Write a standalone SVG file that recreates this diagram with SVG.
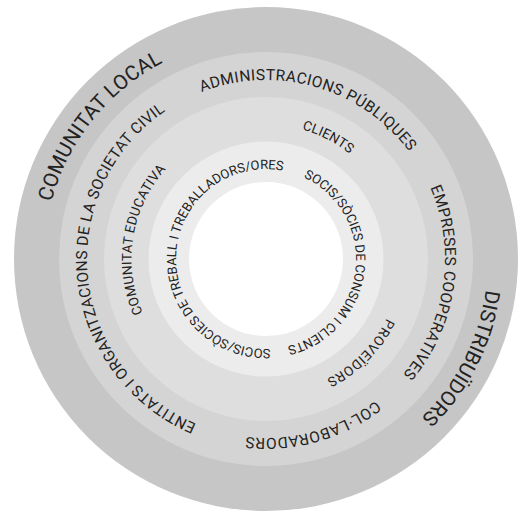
<svg xmlns="http://www.w3.org/2000/svg" xmlns:xlink="http://www.w3.org/1999/xlink" width="524" height="512" viewBox="0 0 524 512">
<style>
.lbl{font-family:Roboto,"Liberation Sans",sans-serif;fill:#222;text-anchor:middle}
.f1{font-size:20.5px}
.f2{font-size:15.5px}
.f3{font-size:13.5px}
.f4{font-size:13px}
</style>
<defs>
<path id="p1" d="M266,481 A222,222 0 1 1 266,37 A222,222 0 1 1 266,481"/>
<path id="p2" d="M266,438 A179,179 0 1 1 266,80 A179,179 0 1 1 266,438"/>
<path id="p3" d="M266,393.5 A134.5,134.5 0 1 1 266,124.5 A134.5,134.5 0 1 1 266,393.5"/>
<path id="p4" d="M266,349 A90,90 0 1 1 266,169 A90,90 0 1 1 266,349"/>
</defs>
<g id="rings">
<circle cx="266" cy="259" r="252" fill="#c6c6c6"/>
<circle cx="266" cy="259" r="207" fill="#d4d4d4"/>
<circle cx="266" cy="259" r="162" fill="#dedede"/>
<circle cx="266" cy="259" r="117.5" fill="#ececec"/>
<circle cx="266" cy="259" r="77" fill="#ffffff"/>
</g>
<g id="comunitat-local"><text class="lbl f1" transform="rotate(308.6 266 259)"><textPath xlink:href="#p1" href="#p1" startOffset="50%" textLength="184">COMUNITAT LOCAL</textPath></text></g>
<g id="distribuidors"><text class="lbl f1" transform="rotate(116.8 266 259)"><textPath xlink:href="#p1" href="#p1" startOffset="50%" textLength="146">DISTRIBUÏDORS</textPath></text></g>
<g id="administracions"><text class="lbl f2" transform="rotate(16 266 259)"><textPath xlink:href="#p2" href="#p2" startOffset="50%" textLength="232">ADMINISTRACIONS PÚBLIQUES</textPath></text></g>
<g id="empreses"><text class="lbl f2" transform="rotate(98.3 266 259)"><textPath xlink:href="#p2" href="#p2" startOffset="50%" textLength="199">EMPRESES COOPERATIVES</textPath></text></g>
<g id="col-laboradors"><text class="lbl f2" transform="rotate(164.3 266 259)"><textPath xlink:href="#p2" href="#p2" startOffset="50%" textLength="138">COL·LABORADORS</textPath></text></g>
<g id="entitats"><text class="lbl f2" transform="rotate(264.35 266 259)"><textPath xlink:href="#p2" href="#p2" startOffset="50%" textLength="384">ENTITATS I ORGANITZACIONS DE LA SOCIETAT CIVIL</textPath></text></g>
<g id="clients"><text class="lbl f3" transform="rotate(27 266 259)"><textPath xlink:href="#p3" href="#p3" startOffset="50%" textLength="54">CLIENTS</textPath></text></g>
<g id="proveidors"><text class="lbl f3" transform="rotate(134.65 266 259)"><textPath xlink:href="#p3" href="#p3" startOffset="50%" textLength="87">PROVEÏDORS</textPath></text></g>
<g id="comunitat-educativa"><text class="lbl f3" transform="rotate(279.1 266 259)"><textPath xlink:href="#p3" href="#p3" startOffset="50%" textLength="154">COMUNITAT EDUCATIVA</textPath></text></g>
<g id="socis-treball"><text class="lbl f4" transform="rotate(274 266 259)"><textPath xlink:href="#p4" href="#p4" startOffset="50%" textLength="304">SOCIS/SÒCIES DE TREBALL I TREBALLADORS/ORES</textPath></text></g>
<g id="socis-consum"><text class="lbl f4" transform="rotate(95.45 266 259)"><textPath xlink:href="#p4" href="#p4" startOffset="50%" textLength="222">SOCIS/SÒCIES DE CONSUM I CLIENTS</textPath></text></g>
</svg>
